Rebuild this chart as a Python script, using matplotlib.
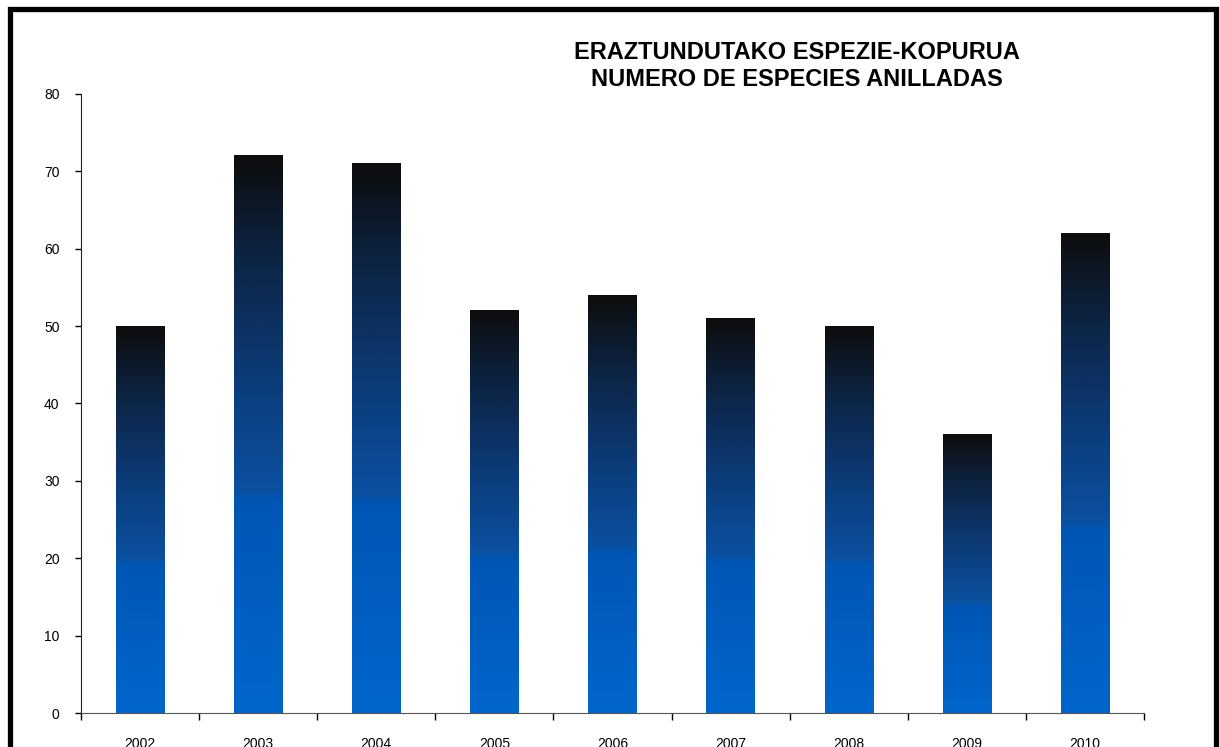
import numpy as np
import matplotlib.pyplot as plt
from matplotlib.colors import LinearSegmentedColormap
from matplotlib.patches import Rectangle

plt.rcParams["font.family"] = ["Liberation Sans", "DejaVu Sans"]

years = ["2002", "2003", "2004", "2005", "2006", "2007", "2008", "2009", "2010"]
species = [50, 72, 71, 52, 54, 51, 50, 36, 62]

title = "ERAZTUNDUTAKO ESPEZIE-KOPURUA\nNUMERO DE ESPECIES ANILLADAS"

# blue at the foot of each bar, fading to near black at its top
cmap = LinearSegmentedColormap.from_list("bar", [
    (0.0, "#0066CC"),
    (0.38, "#0056B4"),
    (0.40, "#0B50A0"),
    (0.60, "#0C3B78"),
    (0.80, "#0C2648"),
    (1.0, "#0D0D0D"),
])

fig = plt.figure(figsize=(12.2, 7.47), dpi=100)
ax = fig.add_axes([0.0664, 0.0455, 0.8713, 0.8287])

width = 0.41
grad = np.linspace(0, 1, 256).reshape(-1, 1)
for i, v in enumerate(species):
    ax.imshow(grad, cmap=cmap, origin="lower", aspect="auto",
              extent=(i - width / 2, i + width / 2, 0, v), zorder=2)

ax.set_xlim(-0.5, len(years) - 0.5)
ax.set_ylim(0, 80)
ax.set_yticks(range(0, 81, 10))
ax.set_xticks(range(len(years)))
ax.set_xticklabels(years)
ax.set_xticks(np.arange(-0.5, len(years), 1), minor=True)

ax.tick_params(axis="x", which="major", length=0, pad=17, labelsize=10)
ax.tick_params(axis="x", which="minor", length=5, width=1, direction="out")
ax.tick_params(axis="y", length=4, width=1, direction="out", pad=11.5, labelsize=10)

for side in ("top", "right"):
    ax.spines[side].set_visible(False)
ax.spines["left"].set_color("#222222")
ax.spines["bottom"].set_color("#555555")

fig.text(0.6533, 0.9116, title, ha="center", va="center", fontsize=17,
         fontweight="bold", linespacing=1.2)

# thick frame around the whole chart
fig.patches.append(Rectangle((9.5 / 1220, -0.05), 1206 / 1220, 1.05 - 9.5 / 747,
                             transform=fig.transFigure, fill=False,
                             edgecolor="black", linewidth=3.8, clip_on=False))

fig.savefig("out.png", dpi=100)
